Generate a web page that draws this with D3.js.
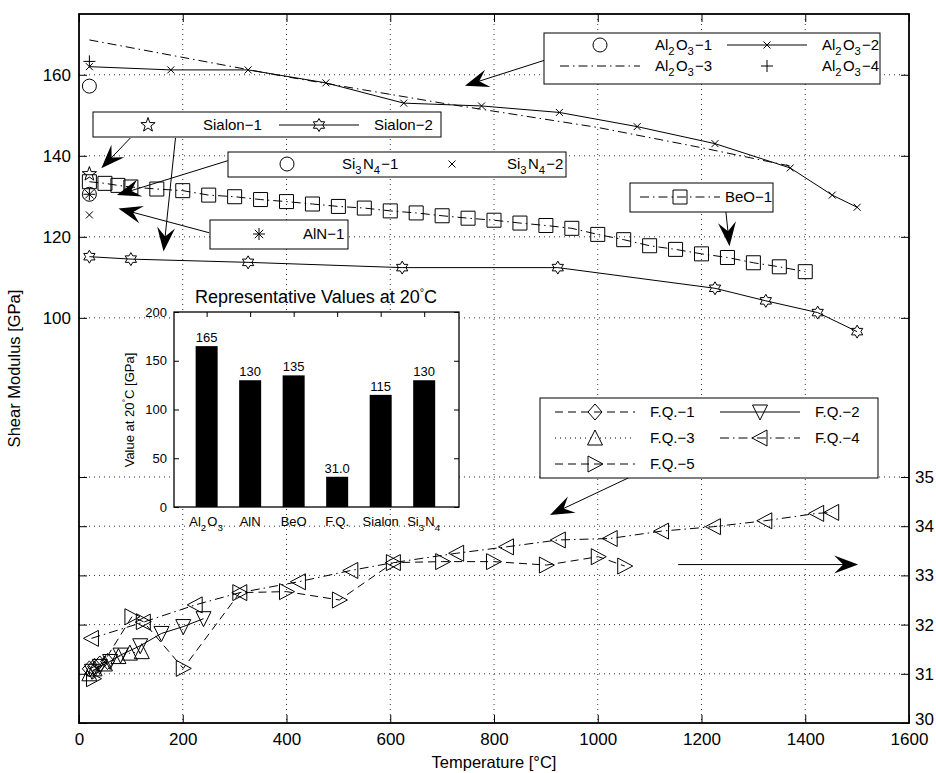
<!DOCTYPE html>
<html>
<head>
<meta charset="utf-8">
<script src="https://cdn.jsdelivr.net/npm/d3@7"></script>
<style>
  body { margin: 0; background: #fff; }
  text { font-family: "Liberation Sans", Arial, sans-serif; fill: #000; }
</style>
</head>
<body>
<div id="chart"></div>
<script>
// ---- data (temperature in C, modulus in GPa) ----
var al2o3_1 = [[20, 157.2]];
var al2o3_2 = [[20, 162], [177, 161.2], [326, 161.2], [476, 158], [626, 153], [776, 152.3], [926, 150.7], [1076, 147.2], [1226, 143], [1371, 137], [1452, 130.3], [1500, 127.3]];
var al2o3_3 = [[20, 168.6], [400, 159.5], [700, 153], [1000, 147], [1200, 142], [1370, 137.5]];
var al2o3_4 = [[20, 163.3]];
var sialon_1 = [[20, 135.5]];
var sialon_2 = [[20, 115.1], [100, 114.5], [326, 113.7], [623, 112.4], [923, 112.4], [1226, 107.3], [1324, 104.2], [1424, 101.3], [1500, 96.6]];
var si3n4_1 = [[20, 130.5]];
var si3n4_2 = [[20, 125.4]];
var aln_1 = [[20, 130.5]];
var beo_1 = [[20, 133.6], [50, 133.2], [75, 132.7], [100, 132.3], [150, 131.8], [200, 131.4], [250, 130.3], [300, 129.9], [350, 129.2], [400, 128.7], [450, 128.1],
  [500, 127.5], [550, 127.1], [600, 126.4], [650, 125.9], [700, 125.2], [750, 124.6], [800, 124.1], [850, 123.4], [900, 122.8], [950, 122.1], [1000, 120.6],
  [1050, 119.3], [1100, 117.8], [1150, 116.9], [1200, 115.8], [1250, 114.9], [1300, 113.6], [1350, 112.6], [1400, 111.4]];
// fused quartz, right axis
var fq_1 = [[20, 31.1], [30, 31.15], [40, 31.2], [55, 31.25]];
var fq_2 = [[25, 31.05], [40, 31.15], [60, 31.25], [80, 31.38], [118, 31.57], [159, 31.82], [201, 31.96], [240, 32.12]];
var fq_3 = [[20, 31.0], [30, 31.1], [50, 31.2], [76, 31.35], [98, 31.42], [121, 31.45]];
var fq_4 = [[24, 31.72], [124, 32.05], [224, 32.4], [310, 32.65], [423, 32.87], [524, 33.1], [606, 33.26], [728, 33.45], [824, 33.58], [924, 33.72],
  [1024, 33.75], [1123, 33.9], [1223, 33.99], [1322, 34.11], [1422, 34.26], [1451, 34.28]];
var fq_5 = [[28, 30.9], [102, 32.16], [124, 32.06], [201, 31.11], [310, 32.65], [400, 32.67], [502, 32.5], [606, 33.26], [701, 33.28], [799, 33.28],
  [901, 33.21], [1001, 33.38], [1052, 33.19]];

// inset bars
var barNames = ["Al_2O_3", "AlN", "BeO", "F.Q.", "Sialon", "Si_3N_4"];
var barValues = [165, 130, 135, 31.0, 115, 130];
var barLabels = ["165", "130", "135", "31.0", "115", "130"];

var xTicks = [0, 200, 400, 600, 800, 1000, 1200, 1400, 1600];
var yTicksLeft = [100, 120, 140, 160];
var yTicksRight = [30, 31, 32, 33, 34, 35];
var insetTicks = [0, 50, 100, 150, 200];

// annotation arrows: [fromX, fromY, toX, toY] in temperature / left GPa units
var arrows = [
  [898, 163.6, 744, 157.3],
  [99, 144.4, 43, 136.9],
  [186, 144.4, 163, 116.4],
  [287, 138.8, 73, 130.3],
  [251, 121.0, 76, 127.0],
  [1247, 126.2, 1254, 117.7]
];
// these two use the right (F.Q.) axis
var fqArrow = [1091, 35.14, 908, 34.23];
var rightArrow = [1155, 33.22, 1502, 33.22];

// ---- layout ----
var width = 936, height = 773;
var svg = d3.select("#chart").append("svg")
  .attr("width", width).attr("height", height);

var pTop = 14, pBottom = 723, pLeft = 79, pRight = 909;
var x = d3.scaleLinear().domain([0, 1600]).range([pLeft, pRight]);
var yL = d3.scaleLinear().domain([0, 175]).range([pBottom, pTop]);
var yR = d3.scaleLinear().domain([30, 44.41]).range([pBottom, pTop]);

// grid
var grid = svg.append("g").attr("stroke", "#333").attr("stroke-dasharray", "1,4").attr("stroke-width", 1);
grid.selectAll(".gx").data(xTicks.slice(1, -1)).enter().append("line")
  .attr("x1", d => x(d)).attr("x2", d => x(d)).attr("y1", pTop).attr("y2", pBottom);
grid.selectAll(".gl").data(yTicksLeft).enter().append("line")
  .attr("x1", pLeft).attr("x2", pRight).attr("y1", d => yL(d)).attr("y2", d => yL(d));
grid.selectAll(".gr").data(yTicksRight.slice(1)).enter().append("line")
  .attr("x1", pLeft).attr("x2", pRight).attr("y1", d => yR(d)).attr("y2", d => yR(d));

// axes
function styleAxis(g) {
  g.select(".domain").remove();
  g.selectAll("line").attr("stroke", "#000");
  g.selectAll("text").style("font-size", "17px").attr("fill", "#000");
}
var fmt = d3.format("d");
svg.append("g").attr("transform", "translate(0," + pBottom + ")")
  .call(d3.axisBottom(x).tickValues(xTicks).tickFormat(fmt).tickSize(-8).tickPadding(10)).call(styleAxis);
svg.append("g").attr("transform", "translate(0," + pTop + ")")
  .call(d3.axisTop(x).tickValues(xTicks).tickSize(-8).tickFormat("")).call(styleAxis);
svg.append("g").attr("transform", "translate(" + pLeft + ",0)")
  .call(d3.axisLeft(yL).tickValues(yTicksLeft).tickFormat(fmt).tickSize(-8).tickPadding(8)).call(styleAxis);
svg.append("g").attr("transform", "translate(" + pRight + ",0)")
  .call(d3.axisRight(yL).tickValues(yTicksLeft).tickSize(-8).tickFormat("")).call(styleAxis);
svg.append("g").attr("transform", "translate(" + pRight + ",0)")
  .call(d3.axisRight(yR).tickValues(yTicksRight).tickFormat(fmt).tickSize(-8).tickPadding(6)).call(styleAxis)
  .selectAll("text").filter(d => d === 30).attr("dy", "0.1em");
svg.append("g").attr("transform", "translate(" + pLeft + ",0)")
  .call(d3.axisLeft(yR).tickValues(yTicksRight).tickSize(-8).tickFormat("")).call(styleAxis);

svg.append("rect").attr("x", pLeft).attr("y", pTop).attr("width", pRight - pLeft).attr("height", pBottom - pTop)
  .attr("fill", "none").attr("stroke", "#000").attr("stroke-width", 1.8);

svg.append("text").attr("x", (pLeft + pRight) / 2).attr("y", 768).attr("text-anchor", "middle")
  .style("font-size", "16.5px").text("Temperature [°C]");
svg.append("text").attr("transform", "translate(20," + (pTop + pBottom) / 2 + ") rotate(-90)")
  .attr("text-anchor", "middle").style("font-size", "16.5px").text("Shear Modulus [GPa]");

// ---- markers ----
function star(n, R, r) {
  var p = [];
  for (var i = 0; i < 2 * n; i++) {
    var a = -Math.PI / 2 + i * Math.PI / n, rr = i % 2 ? r : R;
    p.push([rr * Math.cos(a), rr * Math.sin(a)]);
  }
  return "M" + p.join("L") + "Z";
}
var markerPaths = {
  o: "M7,0A7,7 0 1,1 -7,0A7,7 0 1,1 7,0Z",
  x: "M-3.5,-3.5L3.5,3.5M-3.5,3.5L3.5,-3.5",
  "+": "M-6,0H6M0,-6V6",
  s: "M-7,-7H7V7H-7Z",
  d: "M0,-8L7,0L0,8L-7,0Z",
  "^": "M0,-8L7.5,7L-7.5,7Z",
  v: "M0,8L7.5,-7L-7.5,-7Z",
  "<": "M-8,0L7,-8L7,8Z",
  ">": "M8,0L-7,-8L-7,8Z",
  p: star(5, 7.5, 3),
  h: star(6, 6.5, 3.75),
  "*": "M-6,0H6M0,-6V6M-4.2,-4.2L4.2,4.2M-4.2,4.2L4.2,-4.2"
};
var dashes = { "-": null, "--": "8,5", ":": "1,4", "-.": "9,4,1.5,4", none: null };

var plotArea = svg.append("g");
function drawSeries(data, yScale, ls, mk) {
  if (ls !== "none") {
    plotArea.append("path").datum(data)
      .attr("d", d3.line().x(d => x(d[0])).y(d => yScale(d[1])))
      .attr("fill", "none").attr("stroke", "#000").attr("stroke-width", 1)
      .attr("stroke-dasharray", dashes[ls]);
  }
  if (mk) {
    plotArea.selectAll(null).data(data).enter().append("path")
      .attr("transform", d => "translate(" + x(d[0]) + "," + yScale(d[1]) + ")")
      .attr("d", markerPaths[mk]).attr("fill", "none").attr("stroke", "#000").attr("stroke-width", 1);
  }
}
drawSeries(al2o3_3, yL, "-.", null);
drawSeries(al2o3_2, yL, "-", "x");
drawSeries(al2o3_1, yL, "none", "o");
drawSeries(al2o3_4, yL, "none", "+");
drawSeries(sialon_2, yL, "-", "h");
drawSeries(sialon_1, yL, "none", "p");
drawSeries(beo_1, yL, "-.", "s");
drawSeries(si3n4_1, yL, "none", "o");
drawSeries(si3n4_2, yL, "none", "x");
drawSeries(aln_1, yL, "none", "*");
drawSeries(fq_1, yR, "--", "d");
drawSeries(fq_2, yR, "-", "v");
drawSeries(fq_3, yR, ":", "^");
drawSeries(fq_4, yR, "-.", "<");
drawSeries(fq_5, yR, "--", ">");

// ---- text with TeX-like subscripts ----
function texText(sel, str, size) {
  var parts = str.split(/(_\d)/);
  parts.forEach(function (p) {
    if (!p) return;
    if (p[0] === "_") {
      sel.append("tspan").attr("dy", size * 0.35).style("font-size", (size * 0.75) + "px").text(p[1]);
      sel.append("tspan").attr("dy", -size * 0.35).text("\u200A");
    } else {
      sel.append("tspan").text(p);
    }
  });
}

// ---- inset bar chart ----
var ix = d3.scaleLinear().domain([0.25, 6.8]).range([174, 459]);
var iy = d3.scaleLinear().domain([0, 200]).range([507, 312]);
var inset = svg.append("g");
inset.append("rect").attr("x", 174).attr("y", 312).attr("width", 285).attr("height", 195).attr("fill", "#fff");
inset.selectAll(".bar").data(barValues).enter().append("rect")
  .attr("x", (d, i) => ix(i + 1) - 11).attr("width", 22)
  .attr("y", d => iy(d)).attr("height", d => iy(0) - iy(d)).attr("fill", "#000");
inset.selectAll(".bl").data(barLabels).enter().append("text")
  .attr("x", (d, i) => ix(i + 1)).attr("y", (d, i) => iy(barValues[i]) - 4)
  .attr("text-anchor", "middle").style("font-size", "13px").text(d => d);
var iax = inset.append("g").attr("transform", "translate(174,0)")
  .call(d3.axisLeft(iy).tickValues(insetTicks).tickSize(-5).tickPadding(7));
iax.select(".domain").remove();
iax.selectAll("text").style("font-size", "13px");
inset.append("g").attr("transform", "translate(459,0)")
  .call(d3.axisRight(iy).tickValues(insetTicks).tickSize(-5).tickFormat(""))
  .select(".domain").remove();
inset.append("g").attr("transform", "translate(0,312)")
  .call(d3.axisTop(ix).tickValues([1, 2, 3, 4, 5, 6]).tickSize(-5).tickFormat(""))
  .select(".domain").remove();
inset.append("rect").attr("x", 174).attr("y", 312).attr("width", 285).attr("height", 195)
  .attr("fill", "none").attr("stroke", "#000").attr("stroke-width", 1.3);
inset.selectAll(".xl").data(barNames).enter().append("text")
  .attr("x", (d, i) => ix(i + 1)).attr("y", 526).attr("text-anchor", "middle").style("font-size", "13px")
  .each(function (d) { texText(d3.select(this), d, 13); });
var it = inset.append("text").attr("x", 316).attr("y", 303).attr("text-anchor", "middle").style("font-size", "18px");
it.append("tspan").text("Representative Values at 20");
it.append("tspan").attr("dy", -7).style("font-size", "11px").text("°");
it.append("tspan").attr("dy", 7).text("C");
var iyl = inset.append("text").attr("transform", "translate(134,410) rotate(-90)").attr("text-anchor", "middle").style("font-size", "13px");
iyl.append("tspan").text("Value at 20");
iyl.append("tspan").attr("dy", -5).style("font-size", "9px").text("°");
iyl.append("tspan").attr("dy", 5).text("C [GPa]");

// ---- arrows ----
function drawArrow(x1, y1, x2, y2) {
  var ang = Math.atan2(y2 - y1, x2 - x1);
  var g = svg.append("g");
  g.append("line").attr("x1", x1).attr("y1", y1).attr("x2", x2 - 14 * Math.cos(ang)).attr("y2", y2 - 14 * Math.sin(ang))
    .attr("stroke", "#000").attr("stroke-width", 1);
  g.append("path").attr("d", "M0,0L-24,-9L-15,0L-24,9Z").attr("fill", "#000")
    .attr("transform", "translate(" + x2 + "," + y2 + ") rotate(" + ang * 180 / Math.PI + ")");
}

// ---- legends ----
function legendBox(x0, y0, w, h) {
  svg.append("rect").attr("x", x0).attr("y", y0).attr("width", w).attr("height", h)
    .attr("fill", "#fff").attr("stroke", "#000").attr("stroke-width", 1);
}
function legendItem(x0, y0, ls, mk, label, off) {
  off = off || 95;
  if (ls !== "none") {
    svg.append("line").attr("x1", x0).attr("x2", x0 + 80).attr("y1", y0).attr("y2", y0)
      .attr("stroke", "#000").attr("stroke-dasharray", dashes[ls]);
  }
  if (mk) {
    svg.append("path").attr("transform", "translate(" + (x0 + 40) + "," + y0 + ")")
      .attr("d", markerPaths[mk]).attr("fill", "none").attr("stroke", "#000");
  }
  var t = svg.append("text").attr("x", x0 + off).attr("y", y0 + 5).style("font-size", "15px");
  texText(t, label, 15);
}

arrows.forEach(function (a) { drawArrow(x(a[0]), yL(a[1]), x(a[2]), yL(a[3])); });
drawArrow(x(fqArrow[0]), yR(fqArrow[1]), x(fqArrow[2]), yR(fqArrow[3]));
drawArrow(x(rightArrow[0]), yR(rightArrow[1]), x(rightArrow[2]), yR(rightArrow[3]));

legendBox(544, 33, 336, 51);
legendItem(560, 45, "none", "o", "Al_2O_3\u22121");
legendItem(727, 45, "-", "x", "Al_2O_3\u22122");
legendItem(560, 66, "-.", null, "Al_2O_3\u22123");
legendItem(727, 66, "none", "+", "Al_2O_3\u22124");

legendBox(93, 112, 348, 25);
legendItem(108, 125, "none", "p", "Sialon\u22121");
legendItem(279, 125, "-", "h", "Sialon\u22122");

legendBox(228, 152, 338, 25);
legendItem(247, 164, "none", "o", "Si_3N_4\u22121");
legendItem(412, 164, "none", "x", "Si_3N_4\u22122");

legendBox(210, 220, 138, 29);
legendItem(219, 234, "none", "*", "AlN\u22121", 84);

legendBox(630, 183, 143, 29);
legendItem(640, 197, "-.", "s", "BeO\u22121", 85);

legendBox(540, 398, 338, 80);
legendItem(555, 412, "--", "d", "F.Q.\u22121");
legendItem(720, 412, "-", "v", "F.Q.\u22122");
legendItem(555, 438, ":", "^", "F.Q.\u22123");
legendItem(720, 438, "-.", "<", "F.Q.\u22124");
legendItem(555, 464, "--", ">", "F.Q.\u22125");
</script>
</body>
</html>
